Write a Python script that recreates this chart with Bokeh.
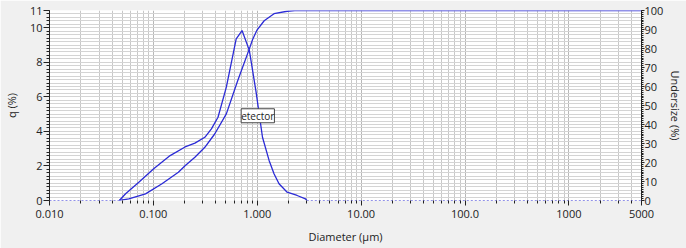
import math
import numpy as np
from bokeh.plotting import figure
from bokeh.models import (Range1d, LinearAxis, FixedTicker, Label)
from bokeh.embed import file_html
from bokeh.resources import INLINE

# ---- data ----
q_diam = [0.047, 0.054, 0.0724, 0.1007, 0.145, 0.2018, 0.251, 0.3128, 0.362, 0.419,
          0.504, 0.627, 0.714, 0.839, 0.973, 1.123, 1.30, 1.45, 1.62, 1.94, 2.42, 2.91, 3.0]
q_vals = [0.0, 0.39, 1.06, 1.84, 2.6, 3.1, 3.32, 3.66, 4.15, 4.82,
          6.56, 9.36, 9.84, 8.69, 6.3, 3.66, 2.32, 1.55, 0.97, 0.48, 0.29, 0.1, 0.0]

u_diam = [0.047, 0.058, 0.084, 0.121, 0.174, 0.2018, 0.251, 0.3128, 0.389, 0.504,
          0.648, 0.839, 0.90, 0.99, 1.166, 1.45, 1.94, 2.3, 5000]
u_vals = [0.0, 0.9, 3.5, 8.8, 14.9, 18.3, 22.8, 28.0, 35.0, 45.6,
          63.0, 79.8, 84.6, 89.5, 94.6, 98.3, 99.6, 100.0, 100.0]

zero_left = [0.01, 0.047]
zero_right = [3.0, 5000]

x_ticks = [0.01, 0.1, 1, 10, 100, 1000, 5000]
x_tick_labels = ["0.010", "0.100", "1.000", "10.00", "100.0", "1000", "5000"]
q_ticks = [0, 2, 4, 6, 8, 10, 11]
u_ticks = [0, 10, 20, 30, 40, 50, 60, 70, 80, 90, 100]

label_text = "etector"
right_title = "Undersize (%)"

FONT = "Open Sans"
LINE = "#2b2bd6"

p = figure(width=686, height=248, x_axis_type="log",
           x_range=Range1d(0.01, 5000), y_range=Range1d(0, 11),
           output_backend="svg", toolbar_location=None,
           min_border_left=43, min_border_right=45, min_border_top=10, min_border_bottom=48)
p.background_fill_color = "white"
p.border_fill_color = "#f0f0f0"
p.outline_line_color = None

p.extra_y_ranges = {"u": Range1d(0, 100)}

# minor positions
x_minor = []
for e in range(-2, 4):
    for m in range(2, 10):
        v = m * 10 ** e
        if v < 5000:
            x_minor.append(v)

# x axis
xa = p.xaxis[0]
xa.ticker = FixedTicker(ticks=x_ticks, minor_ticks=x_minor)
xa.major_label_overrides = {t: l for t, l in zip(x_ticks, x_tick_labels)}
xa.axis_label = "Diameter (µm)"
xa.axis_line_color = None
xa.major_tick_out = 5
xa.major_tick_in = 0
xa.minor_tick_out = 3
xa.minor_tick_in = 0
xa.major_tick_line_color = "#222222"
xa.minor_tick_line_color = "#222222"
xa.major_label_text_font = FONT
xa.major_label_text_font_size = "11px"
xa.major_label_text_color = "#222222"
xa.major_label_standoff = 4
xa.axis_label_text_font = FONT
xa.axis_label_text_font_size = "11px"
xa.axis_label_text_font_style = "normal"
xa.axis_label_text_color = "#222222"
xa.axis_label_standoff = 8

# left axis
ya = p.yaxis[0]
ya.ticker = FixedTicker(ticks=q_ticks, minor_ticks=[round(i * 0.2, 1) for i in range(56)])
ya.axis_label = "q (%)"
ya.axis_line_color = "#222222"
ya.major_tick_out = 6
ya.major_tick_in = 0
ya.minor_tick_out = 3
ya.minor_tick_in = 0
ya.major_tick_line_color = "#222222"
ya.minor_tick_line_color = "#222222"
ya.major_label_text_font = FONT
ya.major_label_text_font_size = "11px"
ya.major_label_text_color = "#222222"
ya.major_label_standoff = 1
ya.axis_label_text_font = FONT
ya.axis_label_text_font_size = "11px"
ya.axis_label_text_font_style = "normal"
ya.axis_label_text_color = "#222222"
ya.axis_label_standoff = 8

# right axis
ra = LinearAxis(y_range_name="u",
                ticker=FixedTicker(ticks=u_ticks, minor_ticks=list(range(101))))
ra.axis_label = right_title
ra.axis_line_color = "#222222"
ra.major_tick_out = 3
ra.major_tick_in = 0
ra.minor_tick_out = 2
ra.minor_tick_in = 0
ra.major_tick_line_color = "#222222"
ra.minor_tick_line_color = "#222222"
ra.major_label_text_font = FONT
ra.major_label_text_font_size = "11px"
ra.major_label_text_color = "#222222"
ra.major_label_standoff = 0
ra.axis_label_text_font = FONT
ra.axis_label_text_font_size = "11px"
ra.axis_label_text_font_style = "normal"
ra.axis_label_text_color = "#222222"
ra.axis_label_standoff = 2
p.add_layout(ra, "right")

# grids
p.xgrid.grid_line_color = "#b8b8b8"
p.xgrid.minor_grid_line_color = "#c8c8c8"
p.ygrid.ticker = FixedTicker(ticks=[round(i * 0.2, 1) for i in range(56)])
p.ygrid.grid_line_color = "#d4d4d4"

# curves
p.line(zero_left, [0, 0], line_color=LINE, line_width=1, line_dash="2 2")
p.line(zero_right, [0, 0], line_color=LINE, line_width=1, line_dash="2 2")
p.line(q_diam, q_vals, line_color=LINE, line_width=1.3)
p.line(u_diam, u_vals, y_range_name="u", line_color=LINE, line_width=1.3)

lab = Label(x=0.70, y=4.5, text=label_text, text_font=FONT, text_font_size="10px",
            text_color="#222222", border_line_color="#444444", background_fill_color="white",
            padding=0)
p.add_layout(lab)

open("out.html", "w").write(file_html(p, INLINE))
